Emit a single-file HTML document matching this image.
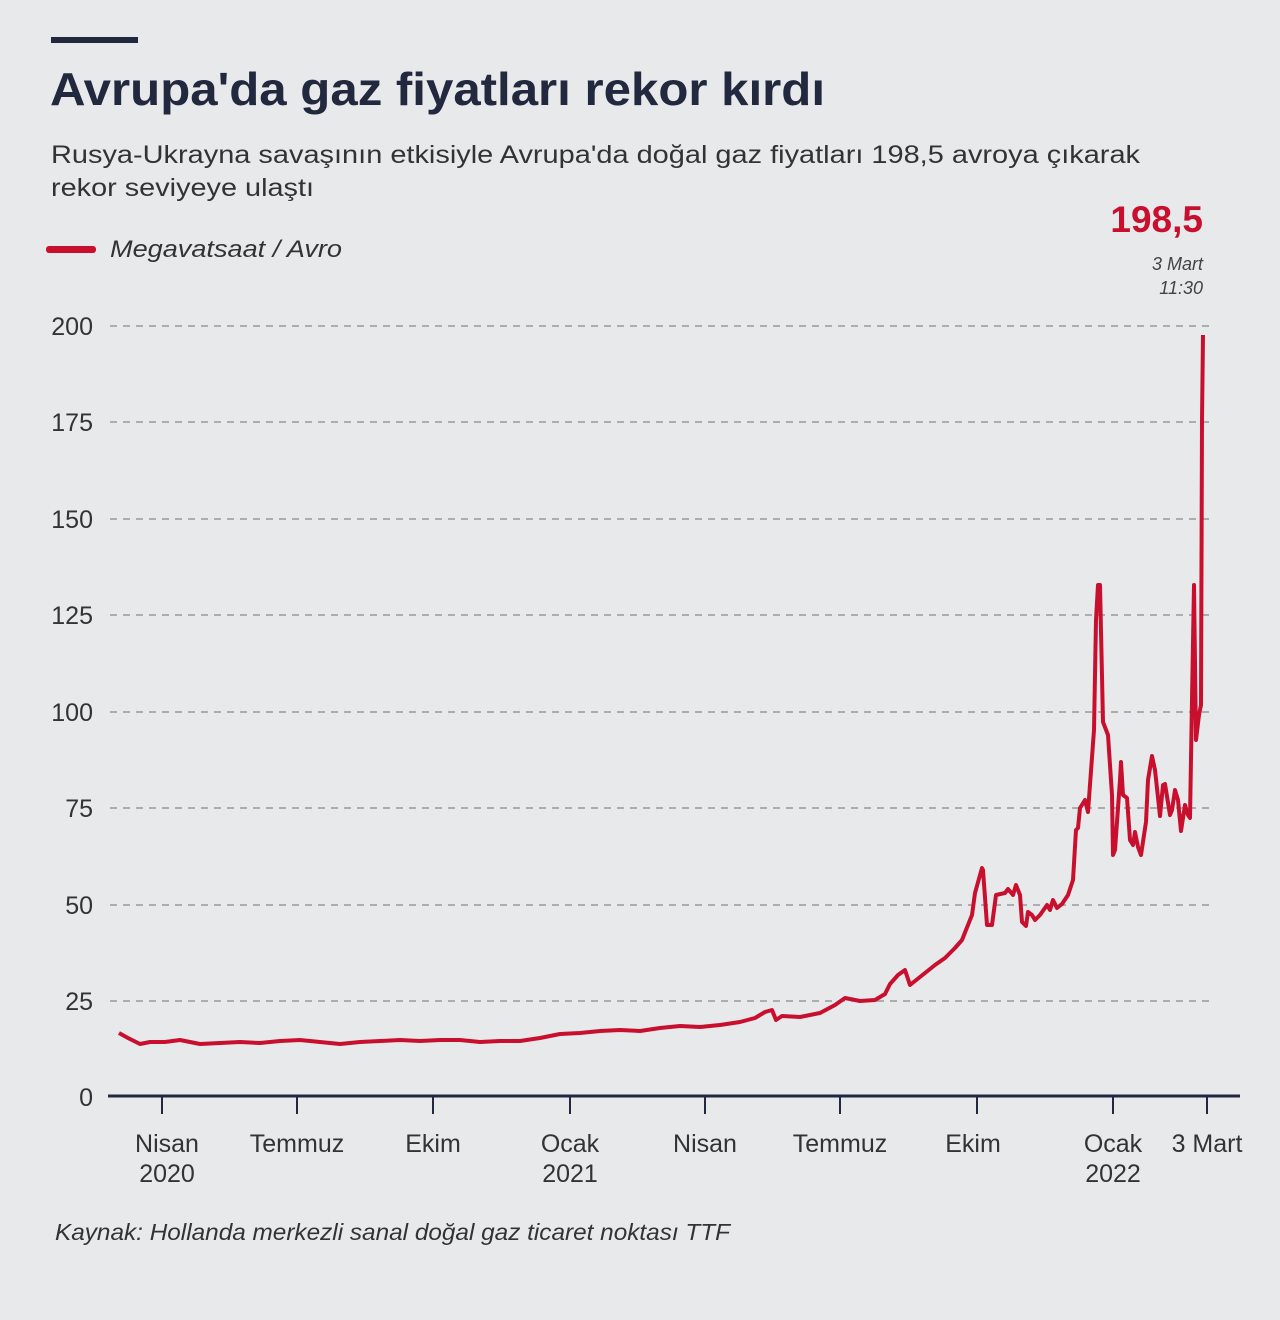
<!DOCTYPE html>
<html><head><meta charset="utf-8"><style>
body{margin:0;width:1280px;height:1315px;background:#e8e9eb;font-family:"Liberation Sans",sans-serif;overflow:hidden}
</style></head><body>
<svg width="1280" height="1315" xmlns="http://www.w3.org/2000/svg" font-family="Liberation Sans, sans-serif">
<rect width="1280" height="1315" fill="#e8e9eb"/>
<rect x="51" y="37" width="87" height="6" fill="#22283e"/>
<text x="50" y="105" font-size="46" font-weight="bold" fill="#22283e" textLength="775" lengthAdjust="spacingAndGlyphs">Avrupa'da gaz fiyatları rekor kırdı</text>
<text x="51" y="163" font-size="25" fill="#333" textLength="1089" lengthAdjust="spacingAndGlyphs">Rusya-Ukrayna savaşının etkisiyle Avrupa'da doğal gaz fiyatları 198,5 avroya çıkarak</text>
<text x="51" y="196" font-size="25" fill="#333" textLength="263" lengthAdjust="spacingAndGlyphs">rekor seviyeye ulaştı</text>
<rect x="46" y="246" width="50" height="7" rx="3" fill="#c8102e"/>
<text x="110" y="257" font-size="24" font-style="italic" fill="#333" textLength="232" lengthAdjust="spacingAndGlyphs">Megavatsaat / Avro</text>
<text x="1203" y="232" font-size="37" font-weight="bold" fill="#c8102e" text-anchor="end">198,5</text>
<text x="1203" y="270" font-size="18" font-style="italic" fill="#444" text-anchor="end">3 Mart</text>
<text x="1203" y="294" font-size="18" font-style="italic" fill="#444" text-anchor="end">11:30</text>
<g stroke="#999" stroke-width="1.5" stroke-dasharray="7,6">
<line x1="110" x2="1212" y1="326" y2="326"/><line x1="110" x2="1212" y1="422" y2="422"/>
<line x1="110" x2="1212" y1="519" y2="519"/><line x1="110" x2="1212" y1="615" y2="615"/>
<line x1="110" x2="1212" y1="712" y2="712"/><line x1="110" x2="1212" y1="808" y2="808"/>
<line x1="110" x2="1212" y1="905" y2="905"/><line x1="110" x2="1212" y1="1001" y2="1001"/>
</g>
<g font-size="25" fill="#333" text-anchor="end">
<text x="93" y="335">200</text><text x="93" y="431">175</text><text x="93" y="528">150</text>
<text x="93" y="624">125</text><text x="93" y="721">100</text><text x="93" y="817">75</text>
<text x="93" y="914">50</text><text x="93" y="1010">25</text><text x="93" y="1106">0</text>
</g>
<line x1="108" x2="1240" y1="1096" y2="1096" stroke="#22283e" stroke-width="3"/>
<g stroke="#22283e" stroke-width="2">
<line x1="162" x2="162" y1="1096" y2="1114"/><line x1="297" x2="297" y1="1096" y2="1114"/>
<line x1="433" x2="433" y1="1096" y2="1114"/><line x1="570" x2="570" y1="1096" y2="1114"/>
<line x1="705" x2="705" y1="1096" y2="1114"/><line x1="840" x2="840" y1="1096" y2="1114"/>
<line x1="977" x2="977" y1="1096" y2="1114"/><line x1="1113" x2="1113" y1="1096" y2="1114"/>
<line x1="1207" x2="1207" y1="1096" y2="1114"/>
</g>
<g font-size="25" fill="#333" text-anchor="middle">
<text x="167" y="1152">Nisan</text><text x="167" y="1182">2020</text>
<text x="297" y="1152">Temmuz</text><text x="433" y="1152">Ekim</text>
<text x="570" y="1152">Ocak</text><text x="570" y="1182">2021</text>
<text x="705" y="1152">Nisan</text><text x="840" y="1152">Temmuz</text><text x="973" y="1152">Ekim</text>
<text x="1113" y="1152">Ocak</text><text x="1113" y="1182">2022</text>
<text x="1207" y="1152">3 Mart</text>
</g>
<text x="55" y="1240" font-size="23" font-style="italic" fill="#333" textLength="675" lengthAdjust="spacingAndGlyphs">Kaynak: Hollanda merkezli sanal doğal gaz ticaret noktası TTF</text>
<polyline fill="none" stroke="#c8102e" stroke-width="4" stroke-linejoin="round" points="
119,1033 128,1038 140,1044 150,1042 165,1042 180,1040 200,1044 220,1043 240,1042 260,1043 280,1041 300,1040 320,1042 340,1044 360,1042 380,1041 400,1040 420,1041 440,1040 460,1040 480,1042 500,1041 520,1041 540,1038 560,1034 580,1033 600,1031 620,1030 640,1031 660,1028 680,1026 700,1027 720,1025 740,1022 755,1018 765,1012 772,1010 776,1020 782,1016 800,1017 820,1013 835,1005 845,998 860,1001 875,1000 885,994 890,984 898,975 905,970 910,985 920,977 935,965 945,958 955,948 962,940 968,925 972,915
975,893 982,868 983,870 987,925 992,925 996,895 1005,893 1008,889 1013,895 1016,885 1020,895 1022,922 1026,926 1028,912 1032,915 1035,920 1040,915 1047,905 1050,910 1053,900 1057,908 1062,904 1068,895 1073,880 1076,830 1078,828 1080,808 1085,800 1088,812 1094,730 1096,620 1098,585 1100,585 1103,722 1108,735 1112,795 1113,855 1115,850 1120,780 1121,762 1123,795 1127,798 1130,840 1133,845 1135,832 1138,847 1141,855 1146,822 1148,780 1152,756 1155,770 1160,816 1163,785 1165,784 1170,815 1172,810 1175,790 1178,800 1181,831 1185,805 1188,815 1190,818 1192,700 1194,585 1196,740 1199,715 1201,705 1202,420 1203,335"/>
</svg>
</body></html>
